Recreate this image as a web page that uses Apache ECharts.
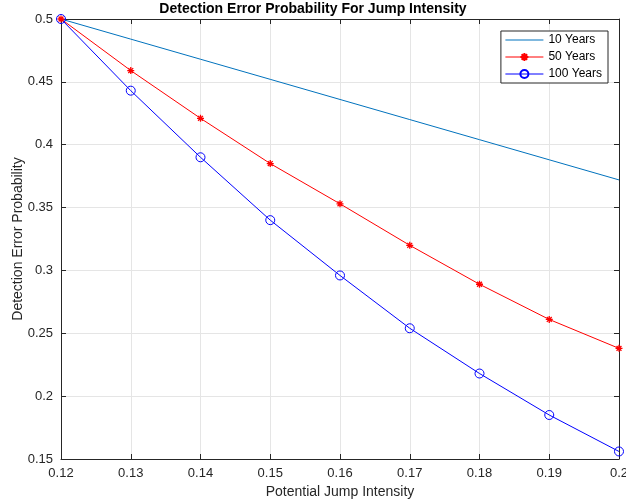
<!DOCTYPE html>
<html><head><meta charset="utf-8">
<script src="https://cdn.jsdelivr.net/npm/echarts@6/dist/echarts.min.js"></script>
<style>html,body{margin:0;padding:0;background:#fff}#c{width:626px;height:504px}</style>
</head><body><div id="c"></div>
<script>
var xValues = [0.12, 0.13, 0.14, 0.15, 0.16, 0.17, 0.18, 0.19, 0.20];
var years10 = [0.5, 0.484, 0.468, 0.452, 0.436, 0.420, 0.404, 0.388, 0.372];
var years50 = [0.5, 0.459, 0.421, 0.385, 0.353, 0.320, 0.289, 0.261, 0.238];
var years100 = [0.5, 0.443, 0.390, 0.340, 0.296, 0.254, 0.218, 0.185, 0.156];
var seriesNames = ['10 Years', '50 Years', '100 Years'];

function pairs(ys){ return xValues.map(function(x,i){ return [x, ys[i]]; }); }
var fmt = function(v){ return String(+v.toFixed(2)); };
var txt = '#262626';
var font = "Arial, 'Liberation Sans', sans-serif";
var star = 'path://M0,5L10,5M5,0L5,10M1.5,1.5L8.5,8.5M8.5,1.5L1.5,8.5';
var lineIcon = 'path://M0,0L0.01,0L0,0.01Z M0,4.5L38,4.5L38,5.5L0,5.5Z M0,10L0.01,10L0,9.99Z';

var chart = echarts.init(document.getElementById('c'), null, {renderer:'canvas'});
var axisCommon = {
  axisLine:{show:true, onZero:false, lineStyle:{color:txt, width:1}},
  axisTick:{show:true, inside:true, length:5, lineStyle:{color:txt}},
  axisLabel:{color:txt, fontSize:13, fontFamily:font, formatter:fmt, hideOverlap:false}
};
chart.setOption({
  animation:false,
  title:{text:'Detection Error Probability For Jump Intensity', left:'center', top:0, padding:[2,0,0,0],
    textStyle:{fontSize:14, fontWeight:'bold', color:'#000', fontFamily:font}},
  grid:{left:61, right:7, top:19, bottom:45, containLabel:false, outerBoundsMode:'none'},
  legend:{
    data:[{name:seriesNames[0], icon:lineIcon}, {name:seriesNames[1]}, {name:seriesNames[2]}],
    orient:'vertical', right:18, top:31,
    backgroundColor:'#fff', borderColor:txt, borderWidth:1, padding:[3,6,3,4],
    itemWidth:38, itemHeight:10, itemGap:5,
    lineStyle:{width:1},
    textStyle:{fontSize:12, color:'#000', fontFamily:font}
  },
  xAxis:[
    Object.assign({type:'value', min:0.12, max:0.2, interval:0.01, position:'bottom',
      name:'Potential Jump Intensity', nameLocation:'middle', nameGap:26, nameMoveOverlap:false,
      nameTextStyle:{color:txt, fontSize:14, fontFamily:font},
      splitLine:{show:true, lineStyle:{color:'#e5e5e5', width:1}}}, axisCommon),
    {type:'value', min:0.12, max:0.2, interval:0.01, position:'top',
      axisLine:{show:true, lineStyle:{color:txt}}, axisTick:{show:true, inside:true, length:5, lineStyle:{color:txt}},
      axisLabel:{show:false}, splitLine:{show:false}}
  ],
  yAxis:[
    Object.assign({type:'value', min:0.15, max:0.5, interval:0.05, position:'left',
      name:'Detection Error Probability', nameLocation:'middle', nameGap:36, nameMoveOverlap:false,
      nameTextStyle:{color:txt, fontSize:14, fontFamily:font},
      splitLine:{show:true, lineStyle:{color:'#e5e5e5', width:1}}}, axisCommon),
    {type:'value', min:0.15, max:0.5, interval:0.05, position:'right',
      axisLine:{show:true, lineStyle:{color:txt}}, axisTick:{show:true, inside:true, length:5, lineStyle:{color:txt}},
      axisLabel:{show:false}, splitLine:{show:false}}
  ],
  series:[
    {name:seriesNames[0], type:'line', data:pairs(years10), showSymbol:false, symbol:'none',
      lineStyle:{color:'#0072BD', width:1}, itemStyle:{color:'#0072BD'}},
    {name:seriesNames[1], type:'line', data:pairs(years50), symbol:star, symbolSize:7, showSymbol:true,
      lineStyle:{color:'#FF0000', width:1}, itemStyle:{color:'#FF0000', borderColor:'#FF0000', borderWidth:1.3}},
    {name:seriesNames[2], type:'line', data:pairs(years100), symbol:'circle', symbolSize:9, showSymbol:true,
      lineStyle:{color:'#0000FF', width:1}, itemStyle:{color:'rgba(0,0,0,0)', borderColor:'#0000FF', borderWidth:1}}
  ]
});
</script></body></html>
